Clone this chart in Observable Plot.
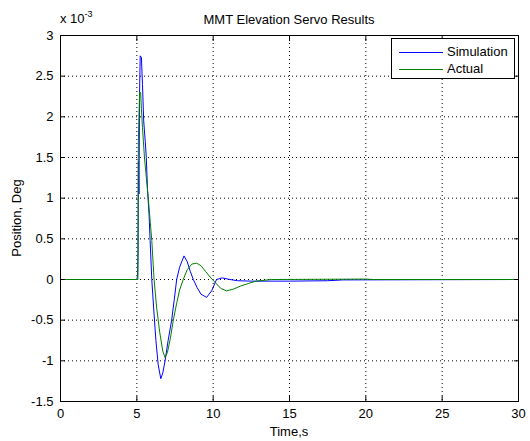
<!DOCTYPE html>
<html><head><meta charset="utf-8">
<script src="https://cdn.jsdelivr.net/npm/d3@7"></script>
<script src="https://cdn.jsdelivr.net/npm/@observablehq/plot@0.6"></script>
<style>
body{margin:0;background:#fff;}
#wrap{position:relative;width:530px;height:441px;font-family:"Liberation Sans",Arial,sans-serif;color:#000;overflow:hidden;}
#wrap svg{position:absolute;left:0;top:0;}
.t{position:absolute;font-size:13px;white-space:nowrap;line-height:1;}
#legend{position:absolute;left:391px;top:38px;width:122px;height:39px;border:1px solid #000;background:#fff;}
.row{position:absolute;left:0;height:14px;font-size:13px;line-height:14px;}
.sw{position:absolute;left:7px;top:7px;width:44px;height:1px;}
.lt{position:absolute;left:55px;top:0;}
</style></head><body>
<div id="wrap"></div>
<script>
// Simulation (blue), position in units of 1e-3 deg
const simTime = [0, 5.0, 5.05, 5.08, 5.1, 5.14, 5.18, 5.22, 5.3, 5.37, 5.45, 5.55, 5.62, 5.7, 5.8, 5.87, 5.98, 6.1, 6.25, 6.4, 6.57, 6.7, 6.85, 7.05, 7.28, 7.45, 7.61, 7.8, 8.09, 8.3, 8.5, 8.7, 8.95, 9.2, 9.57, 9.9, 10.22, 10.6, 11.1, 11.6, 12.5, 15, 17.5, 18.5, 30];
const simPos  = [0, 0, 0.05, 0.35, 1.45, 1.05, 2.3, 2.75, 2.73, 2.4, 1.95, 1.7, 1.5, 1.1, 0.8, 0.48, 0, -0.35, -0.75, -1.05, -1.22, -1.15, -1.0, -0.75, -0.5, -0.25, 0, 0.15, 0.29, 0.22, 0.1, 0, -0.1, -0.18, -0.22, -0.14, 0, 0.02, 0, -0.015, -0.02, -0.02, -0.015, -0.005, 0];
// Actual (green)
const actTime = [0, 5.07, 5.1, 5.18, 5.25, 5.3, 5.37, 5.5, 5.6, 5.75, 5.88, 5.98, 6.13, 6.3, 6.5, 6.7, 6.85, 7.0, 7.2, 7.39, 7.6, 7.8, 8.04, 8.3, 8.6, 8.92, 9.2, 9.5, 9.8, 10.1, 10.5, 10.87, 11.3, 11.8, 12.3, 12.8, 13.8, 20, 20.5, 30];
const actPos  = [0, 0, 1.7, 2.3, 2.3, 2.1, 1.87, 1.5, 1.3, 1.0, 0.7, 0.48, 0, -0.35, -0.65, -0.88, -0.96, -0.9, -0.72, -0.5, -0.3, -0.13, 0, 0.12, 0.19, 0.2, 0.17, 0.1, 0.03, -0.03, -0.11, -0.14, -0.12, -0.08, -0.05, -0.02, 0, 0.005, 0, 0];

const xTicks = [0, 5, 10, 15, 20, 25, 30];
const yTicks = [-1.5, -1, -0.5, 0, 0.5, 1, 1.5, 2, 2.5, 3];
const seriesNames = ["Simulation", "Actual"];
const seriesColors = ["#0000ff", "#008000"];

const sim = simTime.map((t, i) => ({t, v: simPos[i]}));
const act = actTime.map((t, i) => ({t, v: actPos[i]}));

const fmt = d => String(d);
const chart = Plot.plot({
  width: 530, height: 441,
  marginLeft: 60, marginRight: 12, marginTop: 35, marginBottom: 40,
  style: {fontFamily: '"Liberation Sans", Arial, sans-serif', fontSize: "13px", background: "#fff", color: "#000"},
  x: {domain: [0, 30]},
  y: {domain: [-1.5, 3]},
  marks: [
    Plot.ruleX(xTicks, {stroke: "#000", strokeDasharray: "1,3"}),
    Plot.ruleY(yTicks, {stroke: "#000", strokeDasharray: "1,3"}),
    Plot.line(sim, {x: "t", y: "v", stroke: seriesColors[0], strokeWidth: 1}),
    Plot.line(act, {x: "t", y: "v", stroke: seriesColors[1], strokeWidth: 1}),
    Plot.axisX({ticks: xTicks, anchor: "bottom", tickSize: 0, tickPadding: 7, tickFormat: fmt, label: null, fontSize: 13}),
    Plot.axisX({ticks: xTicks, anchor: "bottom", tickSize: -5, tickFormat: () => "", label: null}),
    Plot.axisX({ticks: xTicks, anchor: "top", tickSize: -5, tickFormat: () => "", label: null}),
    Plot.axisY({ticks: yTicks, anchor: "left", tickSize: 0, tickPadding: 7, tickFormat: fmt, label: null, fontSize: 13}),
    Plot.axisY({ticks: yTicks, anchor: "left", tickSize: -5, tickFormat: () => "", label: null}),
    Plot.axisY({ticks: yTicks, anchor: "right", tickSize: -5, tickFormat: () => "", label: null}),
    Plot.frame({stroke: "#000"})
  ]
});

const wrap = document.getElementById("wrap");
wrap.appendChild(chart);

function addText(txt, style) {
  const d = document.createElement("div");
  d.className = "t";
  d.textContent = txt;
  Object.assign(d.style, style);
  wrap.appendChild(d);
  return d;
}
addText("MMT Elevation Servo Results", {left: "289px", top: "13px", transform: "translateX(-50%)"});
const ex = addText("x 10", {left: "60px", top: "12px"});
const sup = document.createElement("span");
sup.textContent = "-3";
sup.style.fontSize = "9px";
sup.style.position = "relative";
sup.style.top = "-6px";
ex.appendChild(sup);
addText("Time,s", {left: "289px", top: "425px", transform: "translateX(-50%)"});
addText("Position, Deg", {left: "16px", top: "218px", transform: "translate(-50%,-50%) rotate(-90deg)"});

const lg = document.createElement("div");
lg.id = "legend";
seriesNames.forEach((n, i) => {
  const r = document.createElement("div");
  r.className = "row";
  r.style.top = (6 + i * 17) + "px";
  r.style.width = "122px";
  const s = document.createElement("div");
  s.className = "sw";
  s.style.background = seriesColors[i];
  const l = document.createElement("div");
  l.className = "lt";
  l.textContent = n;
  r.appendChild(s); r.appendChild(l);
  lg.appendChild(r);
});
wrap.appendChild(lg);
</script>
</body></html>
